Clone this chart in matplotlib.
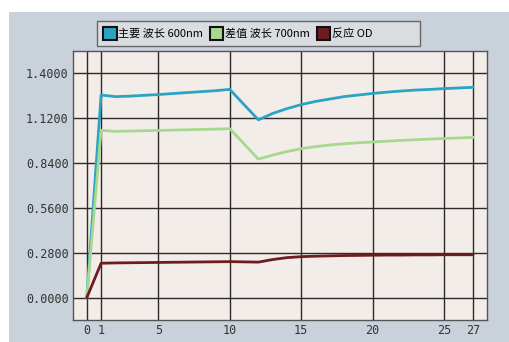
import matplotlib.pyplot as plt
from matplotlib.patches import Patch, Rectangle

plt.rcParams['font.family'] = ['Noto Sans CJK SC', 'DejaVu Sans']

# sample index
x = [0, 1, 2, 3, 4, 5, 6, 7, 8, 9, 10,
     12, 13, 14, 15, 16, 17, 18, 19, 20, 21, 22, 23, 24, 25, 26, 27]

main_600 = [0.0, 1.265, 1.255, 1.258, 1.263, 1.268, 1.274, 1.280, 1.286, 1.292, 1.300,
            1.110, 1.150, 1.180, 1.205, 1.225, 1.240, 1.255, 1.265, 1.275, 1.283,
            1.290, 1.296, 1.300, 1.305, 1.309, 1.313]
diff_700 = [0.0, 1.045, 1.038, 1.040, 1.042, 1.044, 1.046, 1.048, 1.050, 1.052, 1.055,
            0.865, 0.890, 0.912, 0.930, 0.943, 0.953, 0.961, 0.967, 0.972, 0.977,
            0.982, 0.986, 0.990, 0.994, 0.997, 1.000]
react_od = [0.0, 0.215, 0.217, 0.218, 0.219, 0.220, 0.221, 0.222, 0.223, 0.224, 0.225,
            0.222, 0.238, 0.250, 0.256, 0.259, 0.261, 0.263, 0.264, 0.265, 0.266,
            0.266, 0.267, 0.267, 0.268, 0.268, 0.268]

labels = ['主要 波长 600nm', '差值 波长 700nm', '反应 OD']
colors = ['#2ba3c2', '#a6d88e', '#6e1c1f']
xticks = [0, 1, 5, 10, 15, 20, 25, 27]
yticks = [0.0, 0.28, 0.56, 0.84, 1.12, 1.40]

fig = plt.figure(figsize=(5.09, 3.42), dpi=100, facecolor='white')
# screen background
fig.patches.append(Rectangle((0.018, 0), 0.982, 0.965, transform=fig.transFigure,
                             facecolor='#c9d1db', edgecolor='none', zorder=-10))
# legend box (wider than its entries)
fig.patches.append(Rectangle((0.191, 0.865), 0.634, 0.074, transform=fig.transFigure,
                             facecolor='#d9dde2', edgecolor='#666666', linewidth=1.0,
                             zorder=-5))

ax = fig.add_axes([0.143, 0.064, 0.814, 0.787])
ax.set_facecolor('#f3ede9')

for ys, c in zip([main_600, diff_700, react_od], colors):
    ax.plot(x, ys, color=c, linewidth=2.0, zorder=3)

ax.set_xlim(-0.98, 28.0)
ax.set_ylim(-0.14, 1.54)
ax.set_xticks(xticks)
ax.set_yticks(yticks)
ax.set_yticklabels(['%.4f' % v for v in yticks])
ax.grid(True, color='#2e2a2a', linewidth=1.0)
ax.set_axisbelow(True)
ax.tick_params(length=0, labelsize=8.5, colors='#333333', pad=3)
for lab in ax.get_xticklabels() + ax.get_yticklabels():
    lab.set_family('DejaVu Sans Mono')
for s in ax.spines.values():
    s.set_color('#555555')
    s.set_linewidth(1.0)

handles = [Patch(facecolor=c, edgecolor='#111111', linewidth=1.5) for c in colors]
leg = fig.legend(handles, labels, loc='center left', bbox_to_anchor=(0.188, 0.902),
                 ncol=3, fontsize=8, frameon=False,
                 handlelength=1.2, handleheight=1.5, handletextpad=0.15,
                 columnspacing=0.6, borderpad=0.2)

fig.savefig('out.png', dpi=100, facecolor=fig.get_facecolor())
